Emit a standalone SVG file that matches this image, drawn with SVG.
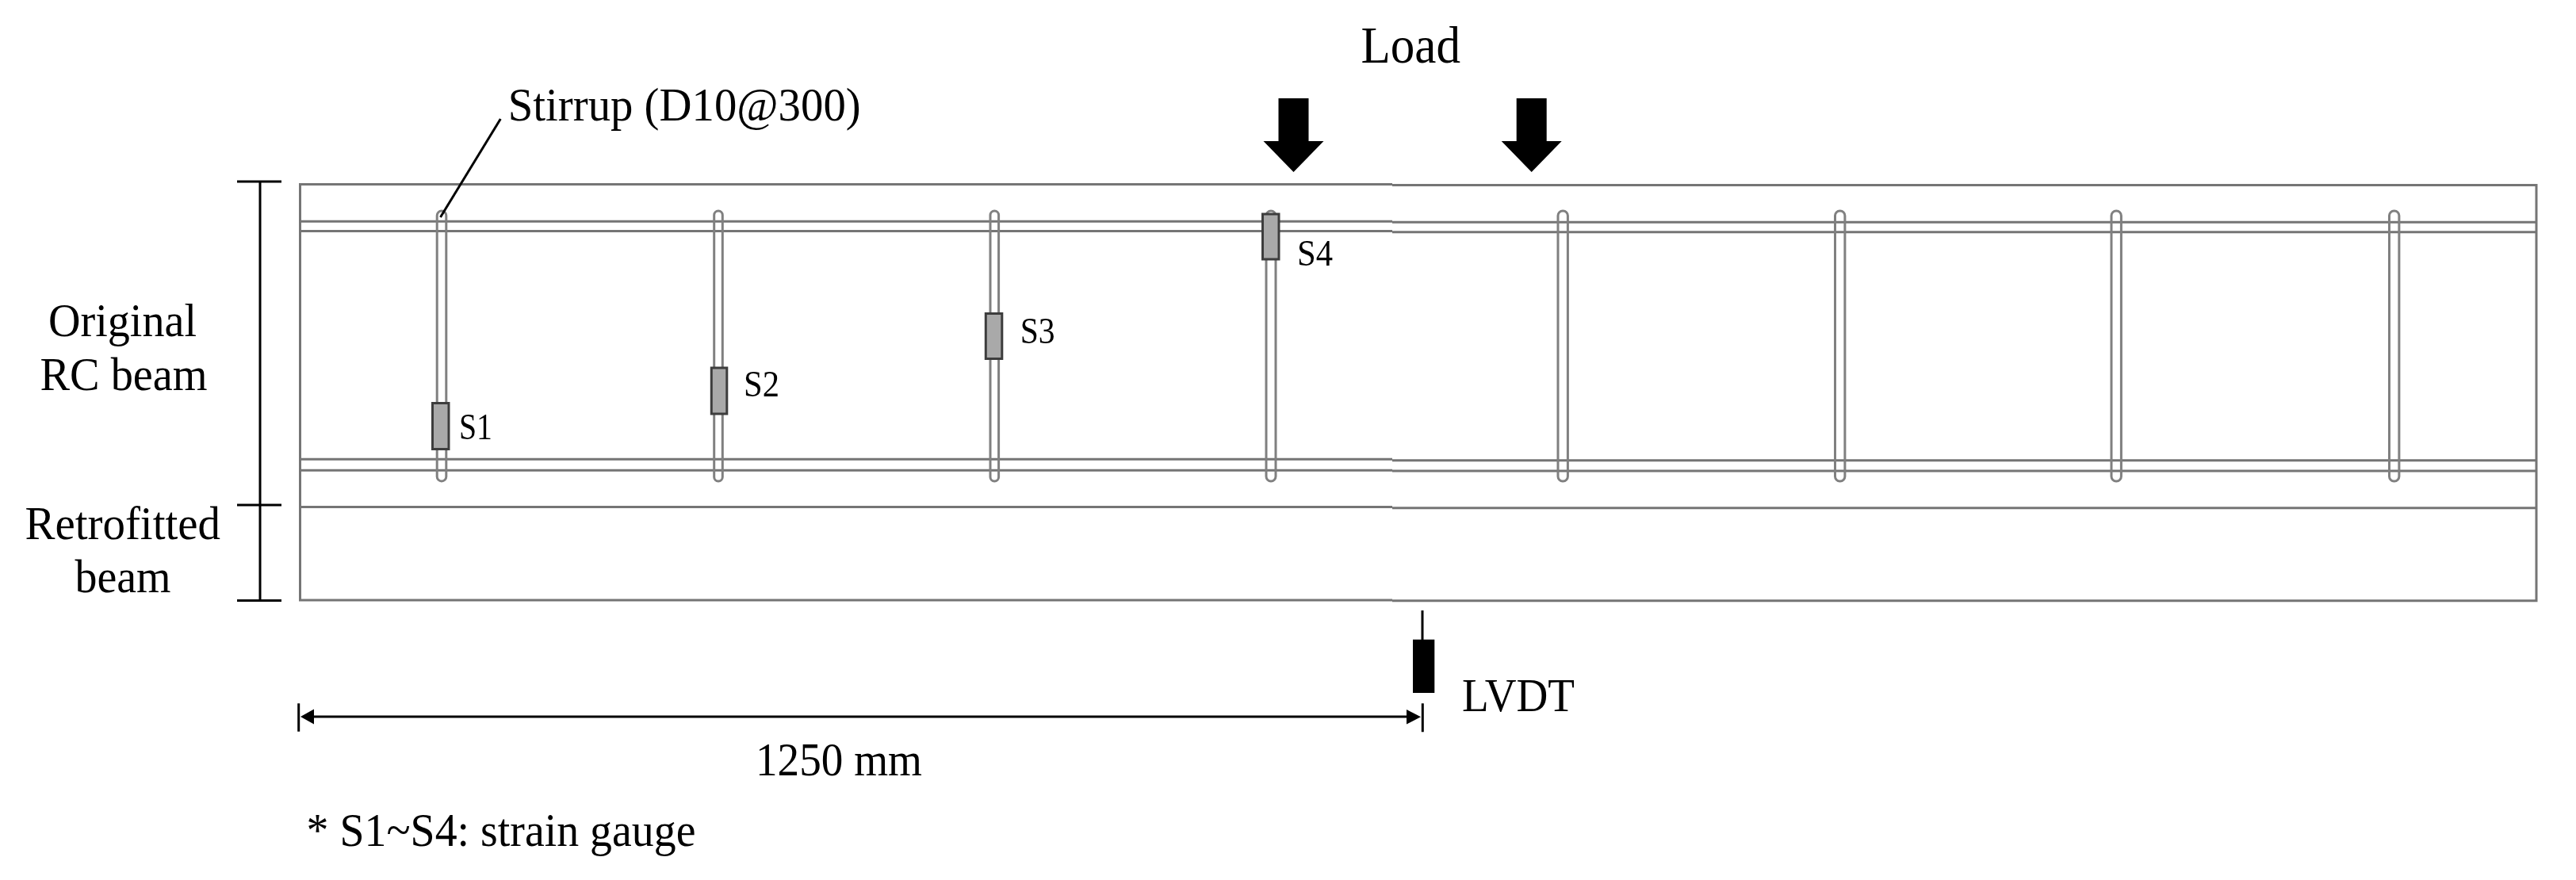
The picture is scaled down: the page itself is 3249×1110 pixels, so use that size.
<svg xmlns="http://www.w3.org/2000/svg" xmlns:xlink="http://www.w3.org/1999/xlink" width="3249" height="1110" viewBox="0 0 3249 1110">
<style>
text{font-family:"Liberation Serif","Times New Roman",serif;font-size:59px;fill:#000}
.s{font-size:46px}
.g{fill:none;stroke:#747474;stroke-width:3}
.st{fill:none;stroke:#808080;stroke-width:3}
.k{fill:none;stroke:#000;stroke-width:3}
.gauge{fill:#a9a9a9;stroke:#3c3c3c;stroke-width:3}
</style>
<defs>
<filter id="soft" filterUnits="userSpaceOnUse" x="0" y="0" width="3249" height="1110"><feGaussianBlur stdDeviation="0.6"/></filter>
<polygon id="down" points="-19,0 19,0 19,54 38,54 0,93 -38,54 -19,54" fill="#000"/>
</defs>
<rect width="3249" height="1110" fill="#fff"/>
<g filter="url(#soft)">
<g id="beam">
<path class="g" d="M1756 232.5H378.5V757H1756M1756 233.5H3199V757.7H1756"/>
<path class="g" d="M378.5 279.3H1756M1756 280.3H3199M378.5 291.5H1756M1756 292.7H3199M378.5 579.3H1756M1756 580.7H3199M378.5 593.3H1756M1756 594H3199M378.5 639.5H1756M1756 640.7H3199"/>
</g>
<g id="stirrups">
<rect class="st" x="551.2" y="266" width="11.6" height="341" rx="5.8"/>
<rect class="st" x="900.7" y="266" width="10.6" height="341" rx="5.3"/>
<rect class="st" x="1249" y="266" width="10.6" height="341" rx="5.3"/>
<rect class="st" x="1597" y="266" width="12" height="341" rx="6"/>
<rect class="st" x="1965" y="266" width="12.4" height="341" rx="6"/>
<rect class="st" x="2314.5" y="266" width="12.4" height="341" rx="6"/>
<rect class="st" x="2663" y="266" width="12.4" height="341" rx="6"/>
<rect class="st" x="3013.5" y="266" width="12.4" height="341" rx="6"/>
</g>
<g id="gauge-s1"><rect class="gauge" x="545.5" y="508.5" width="20.5" height="58"/><text class="s" x="579" y="554" textLength="42" lengthAdjust="spacingAndGlyphs">S1</text></g>
<g id="gauge-s2"><rect class="gauge" x="897.3" y="464" width="19.5" height="58"/><text class="s" x="938" y="499.5" textLength="45" lengthAdjust="spacingAndGlyphs">S2</text></g>
<g id="gauge-s3"><rect class="gauge" x="1243.3" y="395.5" width="20.5" height="57"/><text class="s" x="1286.7" y="432.7" textLength="44" lengthAdjust="spacingAndGlyphs">S3</text></g>
<g id="gauge-s4"><rect class="gauge" x="1592.5" y="270" width="20.5" height="57"/><text class="s" x="1636" y="335" textLength="45" lengthAdjust="spacingAndGlyphs">S4</text></g>
<g id="connectors">
<path class="k" d="M631.3 150L555.5 274"/>
<path class="k" d="M328 229V757.6M299 229H355M299 637H355M299 757.6H355"/>
<path class="k" d="M390 904H1780M376.7 887.3V922.7M1794.3 887.3V923.3"/>
<polygon points="379,904 396,894.5 396,913.5" fill="#000"/>
<polygon points="1792,904.3 1774,895 1774,913.6" fill="#000"/>
</g>
<g id="load-1"><use xlink:href="#down" x="1631.5" y="124"/></g>
<g id="load-2"><use xlink:href="#down" x="1931.7" y="124"/></g>
<g id="lvdt">
<path class="k" d="M1794 770V807"/>
<rect x="1782" y="806.7" width="27.3" height="67.3" fill="#000"/>
<text x="1844" y="896.7" textLength="142" lengthAdjust="spacingAndGlyphs">LVDT</text>
</g>
<g id="labels">
<text x="640.7" y="151.7" textLength="445" lengthAdjust="spacingAndGlyphs">Stirrup (D10@300)</text>
<text x="1716.5" y="79.3" style="font-size:66px" textLength="125.5" lengthAdjust="spacingAndGlyphs">Load</text>
<text x="61" y="423.9" textLength="187" lengthAdjust="spacingAndGlyphs">Original</text>
<text x="50.5" y="491.6" textLength="211" lengthAdjust="spacingAndGlyphs">RC beam</text>
<text x="31.5" y="679.5" textLength="246.5" lengthAdjust="spacingAndGlyphs">Retrofitted</text>
<text x="94.5" y="747.3" textLength="121" lengthAdjust="spacingAndGlyphs">beam</text>
<text x="953" y="977.7" textLength="210" lengthAdjust="spacingAndGlyphs">1250 mm</text>
<text x="386.5" y="1066.7" textLength="491" lengthAdjust="spacingAndGlyphs">* S1~S4: strain gauge</text>
</g>
</g>
</svg>
